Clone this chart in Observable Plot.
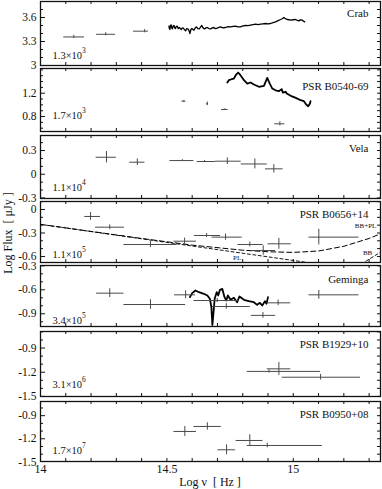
<!DOCTYPE html>
<html><head><meta charset="utf-8">
<script src="https://cdn.jsdelivr.net/npm/d3@7"></script>
<script src="https://cdn.jsdelivr.net/npm/@observablehq/plot@0.6"></script>
<style>
body{margin:0;background:#fff;}
#chart{position:relative;width:382px;height:489px;overflow:hidden;background:#fff;}
#chart svg{position:absolute;left:0;overflow:visible;}
.ttl{position:absolute;font-family:"Liberation Serif",serif;font-size:12px;color:#111;white-space:pre;line-height:1;}
</style></head><body><div id="chart"></div>
<script>
// ---------- data ----------
const xDomain = [14, 15.345];
const xLabelTicks = [14, 14.5, 15];

// error-bar points: [x, xLow, xHigh, y, yErr]
const crabPts = [
  [14.132, 14.092, 14.174, 3.357, 0.02],
  [14.258, 14.222, 14.297, 3.390, 0.02],
  [14.412, 14.368, 14.427, 3.429, 0.02]
];
const crabCurve = [
  [14.508,3.491],[14.510,3.46],[14.512,3.45],[14.514,3.5],[14.517,3.508],[14.519,3.47],[14.522,3.458],
  [14.525,3.495],[14.528,3.5],[14.531,3.47],[14.534,3.462],[14.537,3.488],
  [14.541,3.491],[14.545,3.46],[14.549,3.475],[14.553,3.462],[14.557,3.45],[14.561,3.47],[14.565,3.467],
  [14.570,3.445],[14.574,3.433],[14.578,3.46],[14.583,3.458],[14.587,3.44],
  [14.591,3.40],[14.595,3.45],[14.599,3.462],[14.603,3.45],[14.607,3.441],[14.612,3.47],[14.617,3.483],
  [14.622,3.46],[14.628,3.458],[14.633,3.48],[14.638,3.5],[14.643,3.47],
  [14.649,3.458],[14.655,3.47],[14.660,3.475],[14.666,3.462],[14.673,3.458],[14.680,3.47],[14.686,3.475],
  [14.692,3.46],[14.699,3.467],[14.706,3.478],[14.712,3.483],[14.722,3.47],
  [14.732,3.475],[14.742,3.486],[14.752,3.483],[14.762,3.49],[14.772,3.491],[14.781,3.484],[14.791,3.483],
  [14.801,3.496],[14.811,3.5],[14.821,3.498],[14.831,3.504],[14.841,3.51],
  [14.851,3.516],[14.861,3.51],[14.871,3.516],[14.880,3.52],[14.890,3.525],[14.900,3.52],[14.910,3.525],
  [14.920,3.535],[14.930,3.545],[14.940,3.56],[14.950,3.575],
  [14.956,3.585],[14.963,3.6],[14.969,3.585],[14.976,3.575],[14.982,3.572],[14.989,3.567],[14.999,3.572],
  [15.009,3.575],[15.016,3.565],[15.022,3.558],[15.028,3.57],[15.035,3.567],[15.040,3.555],[15.045,3.545]
];

const b0540Pts = [
  [14.567, 14.559, 14.575, 1.063, 0.015],
  [14.660, 14.656, 14.664, 1.018, 0.03],
  [14.729, 14.716, 14.742, 0.920, 0.012],
  [14.947, 14.927, 14.967, 0.675, 0.035]
];
const b0540Curve = [
  [14.739,1.384],[14.745,1.423],[14.756,1.44],[14.765,1.452],[14.774,1.52],[14.782,1.555],
  [14.791,1.509],[14.805,1.423],[14.818,1.366],[14.831,1.384],[14.844,1.35],[14.864,1.31],
  [14.884,1.327],[14.897,1.464],[14.907,1.366],[14.917,1.28],[14.930,1.25],[14.943,1.235],
  [14.954,1.27],[14.959,1.21],[14.970,1.225],[14.974,1.195],[14.990,1.155],[15.010,1.12],
  [15.029,1.08],[15.042,1.063],[15.051,1.006],[15.059,0.977],[15.066,1.023],[15.068,1.063]
];

const velaPts = [
  [14.261, 14.220, 14.300, 0.215, 0.072],
  [14.383, 14.353, 14.413, 0.152, 0.042],
  [14.561, 14.512, 14.607, 0.173, 0.012],
  [14.649, 14.620, 14.692, 0.161, 0.012],
  [14.739, 14.692, 14.794, 0.165, 0.042],
  [14.848, 14.794, 14.897, 0.130, 0.063],
  [14.923, 14.890, 14.960, 0.068, 0.053]
];

const b0656Pts = [
  [14.198, 14.175, 14.237, -0.089, 0.05],
  [14.274, 14.218, 14.332, -0.226, 0.03],
  [14.435, 14.330, 14.540, -0.447, 0.04],
  [14.570, 14.528, 14.617, -0.405, 0.04],
  [14.657, 14.609, 14.712, -0.332, 0.025],
  [14.732, 14.679, 14.798, -0.353, 0.04],
  [14.828, 14.781, 14.881, -0.447, 0.03],
  [14.881, 14.838, 14.930, -0.524, 0.06],
  [14.943, 14.900, 14.992, -0.438, 0.07],
  [15.101, 15.062, 15.260, -0.353, 0.10]
];
const bbplCurve = [
  [14.0,-0.19],[14.2,-0.28],[14.4,-0.37],[14.6,-0.455],[14.8,-0.52],[14.9,-0.54],
  [15.0,-0.548],[15.1,-0.53],[15.2,-0.47],[15.3,-0.37],[15.345,-0.31]
];
const plLine = [[14.0,-0.19],[15.345,-0.81]];
const bbLine = [[15.25,-0.735],[15.345,-0.545]];
const b0656Notes = [
  {t:"BB+PL", x:15.286, y:-0.204},
  {t:"BB", x:15.294, y:-0.558},
  {t:"PL", x:14.778, y:-0.617}
];

const gemingaPts = [
  [14.274, 14.222, 14.330, -0.642, 0.055],
  [14.435, 14.330, 14.574, -0.784, 0.06],
  [14.574, 14.530, 14.613, -0.663, 0.05],
  [14.699, 14.607, 14.785, -0.734, 0.025],
  [14.735, 14.680, 14.830, -0.809, 0.035],
  [14.880, 14.834, 14.930, -0.920, 0.035],
  [14.940, 14.897, 14.990, -0.763, 0.035],
  [15.101, 15.062, 15.260, -0.663, 0.055]
];
const gemingaCurve = [
  [14.591,-0.692],[14.600,-0.642],[14.613,-0.609],[14.627,-0.63],[14.646,-0.65],[14.660,-0.671],
  [14.670,-0.712],[14.676,-0.817],[14.680,-1.04],[14.684,-0.9],[14.689,-0.712],[14.697,-0.63],
  [14.703,-0.671],[14.710,-0.60],[14.719,-0.588],[14.728,-0.692],[14.735,-0.734],[14.741,-0.671],
  [14.752,-0.725],[14.765,-0.70],[14.778,-0.755],[14.787,-0.684],[14.805,-0.725],[14.824,-0.742],
  [14.844,-0.755],[14.857,-0.788],[14.868,-0.763],[14.877,-0.796],[14.888,-0.742],[14.894,-0.775],[14.900,-0.692]
];

const b1929Pts = [
  [14.904, 14.818, 15.108, -1.190, 0.02],
  [14.943, 14.897, 14.990, -1.158, 0.08],
  [15.108, 14.956, 15.266, -1.262, 0.035]
];

const b0950Pts = [
  [14.571, 14.528, 14.617, -1.105, 0.065],
  [14.660, 14.607, 14.715, -1.040, 0.048],
  [14.736, 14.702, 14.772, -1.343, 0.065],
  [14.828, 14.774, 14.880, -1.222, 0.075],
  [14.897, 14.818, 15.115, -1.287, 0.03]
];

const panelNames = ["Crab","PSR B0540-69","Vela","PSR B0656+14","Geminga","PSR B1929+10","PSR B0950+08"];
const scaleBase = ["1.3×10","1.7×10","1.1×10","1.1×10","3.4×10","3.1×10","1.7×10"];
const scaleExp = ["3","3","4","5","5","6","7"];
const yLabelTicks = [
  [3, 3.3, 3.6], [0.8, 1.2], [-0.3, 0, 0.3], [-0.6, -0.3, 0],
  [-0.9, -0.6, -0.3], [-1.5, -1.2, -0.9], [-1.5, -1.2, -0.9]
];
const yDomains = [
  [3.0, 3.8], [0.543, 1.624], [-0.307, 0.49], [-0.677, 0.102],
  [-1.059, -0.296], [-1.501, -0.695], [-1.495, -0.716]
];

// ---------- layout ----------
const frames = [[1,65],[68,131],[135,198],[201,262],[265,326],[331,396],[401,461]];
const nameDy = [12, 18, 12.5, 13, 13.5, 12.5, 12.5];
const expDy = [10, 16, 11, 8, 6, 11.5, 10.5];
const W = 382, ML = 40, MR = 2;
const FONT = '"Liberation Serif", "Times New Roman", serif';
const ink = "#111", errInk = "#4a4a4a";

const pointsByPanel = [crabPts, b0540Pts, velaPts, b0656Pts, gemingaPts, b1929Pts, b0950Pts];
const curvesByPanel = [
  [{d: crabCurve, w: 1.3}],
  [{d: b0540Curve, w: 1.8}],
  [],
  [{d: bbplCurve, w: 1, dash: "5,3"}, {d: plLine, w: 0.9, dash: "3,2.5"}, {d: bbLine, w: 0.9, dash: "3,2.5"}],
  [{d: gemingaCurve, w: 1.8}],
  [], []
];

const chart = document.getElementById("chart");
const xMinor = d3.range(14, 15.35, 0.1).map(v => +v.toFixed(2));
const innerW = W - ML - MR;

frames.forEach(([t, b], i) => {
  const last = i === frames.length - 1;
  const mt = 6, mb = last ? 26 : 6;
  const H = b - t;
  const dom = yDomains[i];
  const yMinor = d3.range(Math.ceil(dom[0] * 10 - 1e-6), Math.floor(dom[1] * 10 + 1e-6) + 1).map(k => +(k / 10).toFixed(1));
  const isMajorY = v => yLabelTicks[i].some(m => Math.abs(m - v) < 1e-6);
  const pts = pointsByPanel[i];
  const marks = [
    Plot.tickX(xMinor, {x: d => d, insetTop: H - 3, stroke: ink, strokeWidth: 1}),
    Plot.tickX(xMinor, {x: d => d, insetBottom: H - 3, stroke: ink, strokeWidth: 1}),
    Plot.tickY(yMinor.filter(v => !isMajorY(v)), {y: d => d, insetRight: innerW - 3, stroke: ink}),
    Plot.tickY(yMinor.filter(v => isMajorY(v)), {y: d => d, insetRight: innerW - 5, stroke: ink}),
    Plot.tickY(yMinor, {y: d => d, insetLeft: innerW - 3, stroke: ink}),
    Plot.axisY({ticks: yLabelTicks[i], tickSize: 0, tickPadding: 4, tickFormat: d => String(d), label: null, fontSize: 11.5}),
    Plot.frame({stroke: ink, strokeWidth: 1.3}),
  ];
  curvesByPanel[i].forEach(c => {
    marks.push(Plot.line(c.d, {x: d => d[0], y: d => d[1], stroke: "#000", strokeWidth: c.w,
      strokeDasharray: c.dash, clip: true, curve: "linear"}));
  });
  marks.push(
    Plot.ruleY(pts, {y: d => d[3], x1: d => d[1], x2: d => d[2], stroke: errInk, strokeWidth: 1}),
    Plot.ruleX(pts, {x: d => d[0], y1: d => d[3] - d[4], y2: d => d[3] + d[4], stroke: errInk, strokeWidth: 1}),
    Plot.text([panelNames[i]], {text: d => d, frameAnchor: "top-right", dx: -12, dy: nameDy[i],
      textAnchor: "end", lineAnchor: "middle", fontSize: 11, fill: ink}),
    Plot.text([scaleBase[i]], {text: d => d, frameAnchor: "bottom-left", dx: 12, dy: -expDy[i],
      textAnchor: "start", lineAnchor: "middle", fontSize: 10.5, fill: ink}),
    Plot.text([scaleExp[i]], {text: d => d, frameAnchor: "bottom-left", dx: 41.5, dy: -expDy[i] - 5,
      textAnchor: "start", lineAnchor: "middle", fontSize: 7.5, fill: ink})
  );
  if (i === 3) {
    marks.push(Plot.text(b0656Notes, {x: "x", y: "y", text: "t", fontSize: 7, fill: ink}));
  }
  if (last) {
    marks.push(Plot.axisX({ticks: xLabelTicks, tickSize: 0, tickPadding: 3, tickFormat: d => String(d), label: null, fontSize: 12}));
  }
  const svg = Plot.plot({
    width: W, height: H + mt + mb,
    marginLeft: ML, marginRight: MR, marginTop: mt, marginBottom: mb,
    x: {domain: xDomain, axis: null},
    y: {domain: dom, axis: null},
    style: {fontFamily: FONT, fontSize: "12px", color: ink, background: "transparent", overflow: "visible"},
    marks
  });
  svg.style.top = (t - mt) + "px";
  chart.appendChild(svg);
});

// axis titles
const xt = document.createElement("div");
xt.className = "ttl";
xt.textContent = "Log ν  [ Hz ]";
xt.style.left = "210px"; xt.style.top = "482px";
xt.style.transform = "translate(-50%,-50%)";
chart.appendChild(xt);

const yt = document.createElement("div");
yt.className = "ttl";
yt.textContent = "Log Flux  [ μJy ]";
yt.style.left = "8px"; yt.style.top = "233px";
yt.style.transform = "translate(-50%,-50%) rotate(-90deg)";
chart.appendChild(yt);
</script></body></html>
